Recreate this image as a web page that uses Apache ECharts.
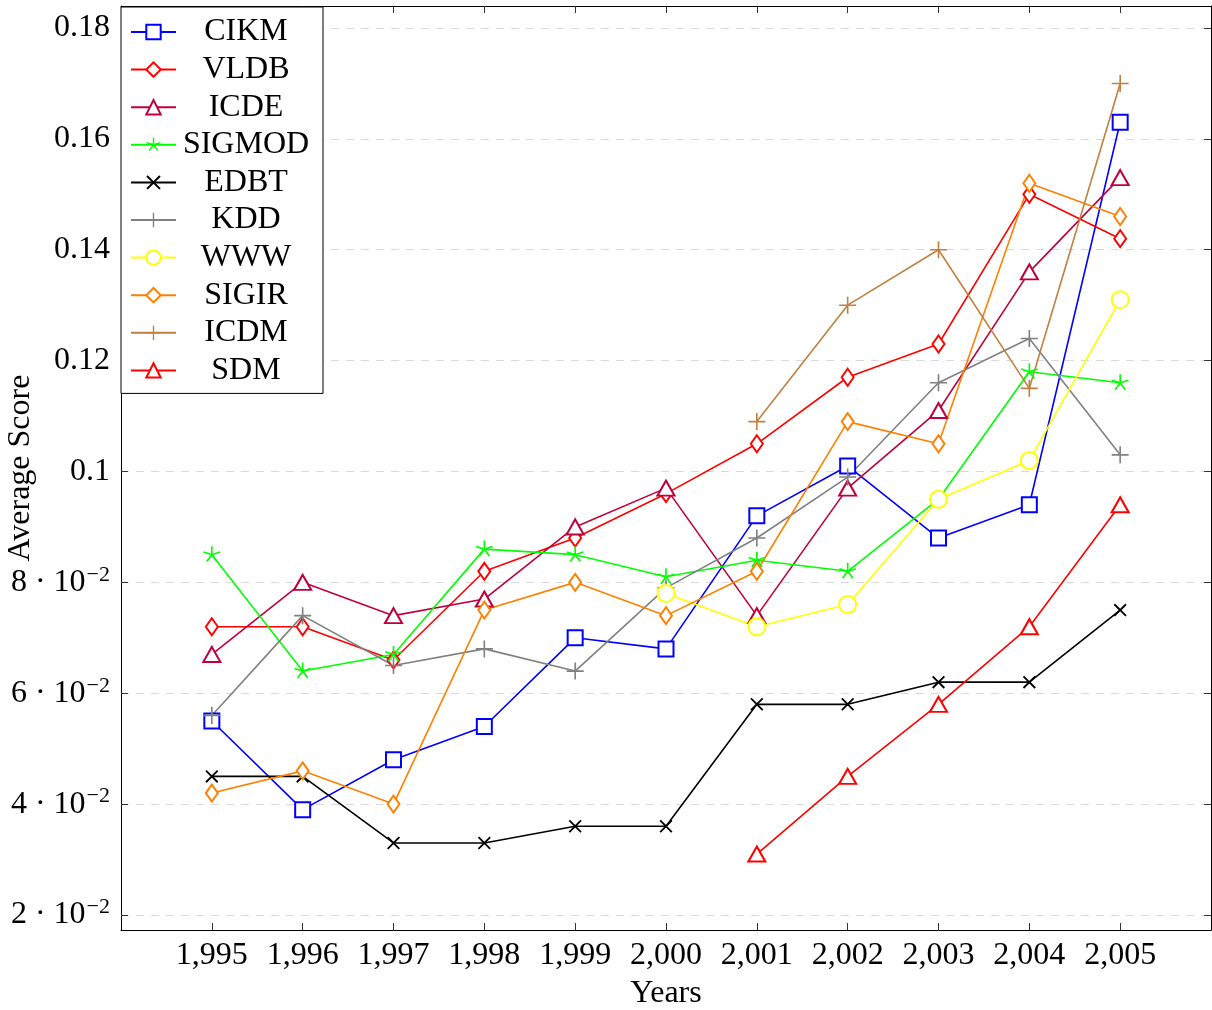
<!DOCTYPE html>
<html><head><meta charset="utf-8">
<script src="https://cdn.jsdelivr.net/npm/echarts@6/dist/echarts.min.js"></script>
<style>html,body{margin:0;padding:0;background:#fff}#c{width:1212px;height:1010px}</style>
</head><body><div id="c"></div>
<script>
const years = [1995, 1996, 1997, 1998, 1999, 2000, 2001, 2002, 2003, 2004, 2005];
const seriesNames = ['CIKM', 'VLDB', 'ICDE', 'SIGMOD', 'EDBT', 'KDD', 'WWW', 'SIGIR', 'ICDM', 'SDM'];
const CIKM   = [0.055, 0.039, 0.048, 0.054, 0.070, 0.068, 0.092, 0.101, 0.088, 0.094, 0.163];
const VLDB   = [0.072, 0.072, 0.066, 0.082, 0.088, 0.096, 0.105, 0.117, 0.123, 0.150, 0.142];
const ICDE   = [0.067, 0.080, 0.074, 0.077, 0.090, 0.097, 0.074, 0.097, 0.111, 0.136, 0.153];
const SIGMOD = [0.085, 0.064, 0.067, 0.086, 0.085, 0.081, 0.084, 0.082, 0.095, 0.118, 0.116];
const EDBT   = [0.045, 0.045, 0.033, 0.033, 0.036, 0.036, 0.058, 0.058, 0.062, 0.062, 0.075];
const KDD    = [0.056, 0.074, 0.065, 0.068, 0.064, 0.079, 0.088, 0.099, 0.116, 0.124, 0.103];
const WWW    = [null, null, null, null, null, 0.078, 0.072, 0.076, 0.095, 0.102, 0.131];
const SIGIR  = [0.042, 0.046, 0.040, 0.075, 0.080, 0.074, 0.082, 0.109, 0.105, 0.152, 0.146];
const ICDM   = [null, null, null, null, null, null, 0.109, 0.130, 0.140, 0.115, 0.170];
const SDM    = [null, null, null, null, null, null, 0.031, 0.045, 0.058, 0.072, 0.094];
const yTicks = [0.02, 0.04, 0.06, 0.08, 0.1, 0.12, 0.14, 0.16, 0.18];
const yTickLabels = ['2 · 10^−2', '4 · 10^−2', '6 · 10^−2', '8 · 10^−2', '0.1', '0.12', '0.14', '0.16', '0.18'];
const xLabel = 'Years';
const yLabel = 'Average Score';

const FONT = 'Liberation Serif';
const FS = 32;

function rayPath(angles, len, hw, extra) {
  let p = '';
  angles.forEach(a => {
    const r = a * Math.PI / 180;
    const dx = Math.cos(r), dy = -Math.sin(r);
    const nx = -dy, ny = dx;
    const sx = -dx * hw, sy = -dy * hw;
    const ex = dx * len, ey = dy * len;
    const pts = [[sx + nx * hw, sy + ny * hw], [ex + nx * hw, ey + ny * hw], [ex - nx * hw, ey - ny * hw], [sx - nx * hw, sy - ny * hw]];
    p += 'M' + pts.map(q => q[0].toFixed(3) + ',' + q[1].toFixed(3)).join('L') + 'Z';
  });
  if (extra) p += extra;
  return 'path://' + p;
}
const PLUS = rayPath([0, 90, 180, 270], 10, 0.95);
const CROSS = rayPath([45, 135, 225, 315], 10, 1.1);
const STAR = rayPath([90, 162, 234, 306, 18], 10, 0.95, 'M0,10L0,10Z');

const styles = {
  CIKM:   { color: '#0000ff', symbol: 'emptyRect', size: 15, data: CIKM },
  VLDB:   { color: '#ff0000', symbol: 'emptyDiamond', size: [12, 17], data: VLDB },
  ICDE:   { color: '#bf0040', symbol: 'emptyTriangle', size: [17, 15], data: ICDE },
  SIGMOD: { color: '#00ff00', symbol: STAR, size: 17, data: SIGMOD },
  EDBT:   { color: '#000000', symbol: CROSS, size: 13, data: EDBT },
  KDD:    { color: '#808080', symbol: PLUS, size: 17, data: KDD },
  WWW:    { color: '#ffff00', symbol: 'emptyCircle', size: 17, data: WWW },
  SIGIR:  { color: '#ff8000', symbol: 'emptyDiamond', size: [12, 17], data: SIGIR },
  ICDM:   { color: '#bf8040', symbol: PLUS, size: 17, data: ICDM },
  SDM:    { color: '#ff0000', symbol: 'emptyTriangle', size: [17, 15], data: SDM }
};

const series = seriesNames.map(n => {
  const s = styles[n];
  const isEmpty = typeof s.symbol === 'string' && s.symbol.indexOf('empty') === 0;
  return {
    name: n,
    type: 'line',
    data: years.map((y, i) => [y, s.data[i]]).filter(d => d[1] !== null),
    symbol: s.symbol,
    symbolSize: s.size,
    showAllSymbol: true,
    lineStyle: { color: s.color, width: 1.6 },
    itemStyle: isEmpty ? { color: s.color, borderColor: s.color, borderWidth: 1.6 } : { color: s.color, borderWidth: 0 },
    emphasis: { disabled: true },
    animation: false
  };
});

function yFmt(v) {
  const i = yTicks.findIndex(t => Math.abs(t - v) < 1e-9);
  if (i < 0) return '';
  const l = yTickLabels[i];
  if (l.indexOf('^') >= 0) {
    const [m, e] = l.split('^');
    return '{m|' + m + '}{e|' + e + '}';
  }
  return '{m|' + l + '}';
}

const chart = echarts.init(document.getElementById('c'), null, { renderer: 'canvas' });
const tickStyle = { color: '#333', width: 1 };
chart.setOption({
  backgroundColor: '#fff',
  animation: false,
  textStyle: { fontFamily: FONT, color: '#000' },
  grid: { left: 121, right: 1, top: 6, bottom: 80, containLabel: false, outerBoundsMode: 'none' },
  legend: {
    orient: 'vertical',
    left: 121, top: 7,
    backgroundColor: '#fff',
    borderColor: '#000', borderWidth: 1, borderRadius: 0,
    padding: [9, 12, 7, 9],
    itemWidth: 45, itemHeight: 18, itemGap: 5.6,
    formatter: n => '{n|' + n + '}',
    textStyle: { fontFamily: FONT, fontSize: FS, color: '#000', lineHeight: 32,
      rich: { n: { width: 130, align: 'center', fontFamily: FONT, fontSize: FS, lineHeight: 32, color: '#000' } } },
    data: seriesNames
  },
  xAxis: [{
    type: 'value', min: 1994, max: 2006, interval: 1,
    name: xLabel, nameLocation: 'middle', nameGap: 48, nameMoveOverlap: false,
    nameTextStyle: { fontFamily: FONT, fontSize: FS, color: '#000' },
    axisLine: { show: true, onZero: false, lineStyle: { color: '#000', width: 1 } },
    axisTick: { show: true, inside: true, length: 7, lineStyle: tickStyle, customValues: years },
    axisLabel: { customValues: years, margin: 10, fontFamily: FONT, fontSize: FS, color: '#000',
      formatter: v => Number(v).toLocaleString('en-US') },
    splitLine: { show: false }
  }, {
    type: 'value', min: 1994, max: 2006, interval: 1, position: 'top',
    axisLine: { show: true, onZero: false, lineStyle: { color: '#000', width: 1 } },
    axisTick: { show: true, inside: true, length: 7, lineStyle: tickStyle, customValues: years },
    axisLabel: { show: false },
    splitLine: { show: false }
  }],
  yAxis: [{
    type: 'value', min: 0.017294, max: 0.183968,
    name: yLabel, nameLocation: 'middle', nameGap: 84, nameRotate: 90, nameMoveOverlap: false,
    nameTextStyle: { fontFamily: FONT, fontSize: FS, color: '#000' },
    axisLine: { show: true, onZero: false, lineStyle: { color: '#000', width: 1 } },
    axisTick: { show: true, inside: true, length: 7, lineStyle: tickStyle, customValues: yTicks },
    axisLabel: { customValues: yTicks, margin: 11, formatter: yFmt,
      rich: {
        m: { fontFamily: FONT, fontSize: FS, color: '#000' },
        e: { fontFamily: FONT, fontSize: 22, color: '#000', verticalAlign: 'top', padding: [0, 0, 15, 1] }
      } },
    splitLine: { show: true, lineStyle: { color: '#d9d9d9', width: 1, type: [8, 7] } }
  }, {
    type: 'value', min: 0.017294, max: 0.183968, position: 'right',
    axisLine: { show: true, onZero: false, lineStyle: { color: '#000', width: 1 } },
    axisTick: { show: true, inside: true, length: 7, lineStyle: tickStyle, customValues: yTicks },
    axisLabel: { show: false },
    splitLine: { show: false }
  }],
  series: series
});
</script>
</body></html>
